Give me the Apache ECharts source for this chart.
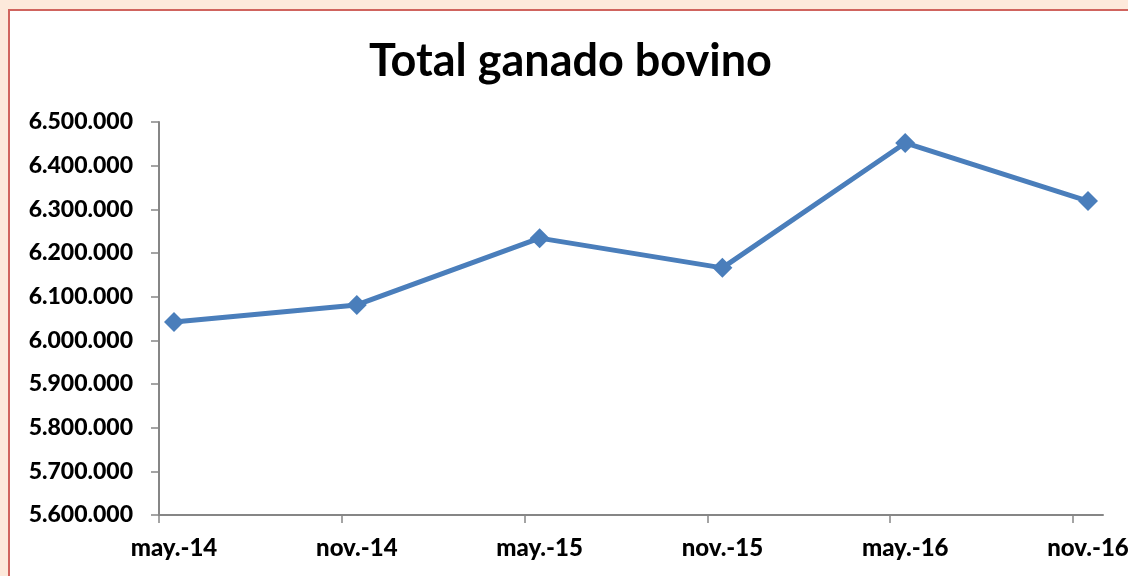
<!DOCTYPE html>
<html>
<head>
<meta charset="utf-8">
<script src="https://cdn.jsdelivr.net/npm/echarts@6/dist/echarts.min.js"></script>
<style>
  html, body {
    margin: 0;
    padding: 0;
    width: 1128px;
    height: 576px;
    overflow: hidden;
    background: #fde9db;
  }
  .panel {
    position: absolute;
    left: 8px;
    top: 9px;
    width: 1140px;
    height: 600px;
    background: #fff;
    border: 2px solid #d0645e;
  }
  #chart {
    position: absolute;
    left: 0;
    top: 0;
    width: 1128px;
    height: 576px;
  }
</style>
</head>
<body>
<div class="panel"></div>
<div id="chart"></div>
<script>
// datos
var categories = ['may.-14', 'nov.-14', 'may.-15', 'nov.-15', 'may.-16', 'nov.-16'];
var totalBovino = [6042000, 6081000, 6234000, 6166000, 6452000, 6319000];
var yTicks = [5600000, 5700000, 5800000, 5900000, 6000000, 6100000, 6200000, 6300000, 6400000, 6500000];

var font = 'Lato';
// las marcas del eje x van un poco a la izquierda de cada punto
var shift = 0.082;

var chart = echarts.init(document.getElementById('chart'));

function miles(v) {
  return String(v).replace(/\B(?=(\d{3})+(?!\d))/g, '.');
}

var idx = categories.map(function (c, i) { return i; });

var option = {
  animation: false,
  title: {
    text: 'Total ganado bovino',
    left: 364,
    top: 34,
    textStyle: {
      fontFamily: font,
      fontWeight: 'bold',
      fontSize: 45,
      color: '#000'
    }
  },
  grid: {
    left: 159,
    right: 25,
    top: 122,
    bottom: 61,
    outerBoundsMode: 'none'
  },
  xAxis: {
    type: 'value',
    min: -shift,
    max: categories.length - 1 + shift,
    splitLine: { show: false },
    axisLine: {
      show: true,
      onZero: false,
      lineStyle: { color: '#868686', width: 2 }
    },
    axisTick: {
      show: true,
      length: 8,
      customValues: idx.map(function (i) { return i - shift; }),
      lineStyle: { color: '#868686', width: 1.5 }
    },
    axisLabel: {
      customValues: idx,
      margin: 21,
      fontFamily: font,
      fontWeight: 900,
      fontSize: 24,
      color: '#000',
      formatter: function (v) {
        return categories[Math.round(v)];
      }
    }
  },
  yAxis: {
    type: 'value',
    min: yTicks[0],
    max: yTicks[yTicks.length - 1],
    interval: 100000,
    splitLine: { show: false },
    axisLine: {
      show: true,
      onZero: false,
      lineStyle: { color: '#868686', width: 2 }
    },
    axisTick: {
      show: true,
      length: 8,
      lineStyle: { color: '#868686', width: 1.5 }
    },
    axisLabel: {
      margin: 26,
      fontFamily: font,
      fontWeight: 900,
      fontSize: 23,
      color: '#000',
      formatter: miles
    }
  },
  series: [
    {
      name: 'Total ganado bovino',
      type: 'line',
      data: totalBovino.map(function (v, i) { return [i, v]; }),
      symbol: 'diamond',
      symbolSize: 20,
      lineStyle: { color: '#4a7ebb', width: 5 },
      itemStyle: { color: '#4a7ebb' }
    }
  ]
};

chart.setOption(option);
</script>
</body>
</html>
